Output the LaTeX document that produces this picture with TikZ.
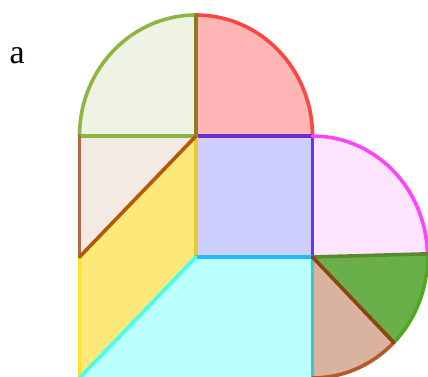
\documentclass[tikz,border=0pt]{standalone}
\usepackage{fontspec}
\setmainfont{Liberation Serif}
\usetikzlibrary{calc}
\definecolor{tlfill}{HTML}{EFF3E4}
\definecolor{tlarc}{HTML}{8DB543}
\definecolor{tlvert}{HTML}{8B7D1E}
\definecolor{rfill}{HTML}{FFB5B5}
\definecolor{rarc}{HTML}{FF4444}
\definecolor{bfill}{HTML}{CFCFFF}
\definecolor{btop}{HTML}{6A2ECC}
\definecolor{bright}{HTML}{6633FF}
\definecolor{befill}{HTML}{F3EAE4}
\definecolor{beleft}{HTML}{B06A4A}
\definecolor{bediag}{HTML}{B35A08}
\definecolor{yfill}{HTML}{FFE87A}
\definecolor{yleft}{HTML}{FFE030}
\definecolor{yright}{HTML}{E8C830}
\definecolor{cfill}{HTML}{BBFFFF}
\definecolor{cdiag}{HTML}{44FFEE}
\definecolor{ctop}{HTML}{22BBFF}
\definecolor{cright}{HTML}{33CCCC}
\definecolor{pfill}{HTML}{FFE4FF}
\definecolor{parc}{HTML}{FF44FF}
\definecolor{gfill}{HTML}{6AB04A}
\definecolor{garc}{HTML}{4FAA20}
\definecolor{gtop}{HTML}{5A8A30}
\definecolor{brfill}{HTML}{D9B3A0}
\definecolor{brarc}{HTML}{B5582A}
\definecolor{brdiag}{HTML}{8B4510}
\begin{document}
\begin{tikzpicture}[x=1pt,y=1pt,
  edge/.style={line width=3.6pt, line cap=round, line join=round}]
\useasboundingbox (0,0) rectangle (428,-376);
\clip (0,0) rectangle (428,-376);
\coordinate (O1) at (196,-136);
\coordinate (A) at (79.5,-136);
\coordinate (B) at (312.5,-136);
\coordinate (T) at (196,-15);
\coordinate (C) at (79.5,-257);
\coordinate (D) at (196,-257);
\coordinate (E) at (312.5,-257);
\coordinate (F) at (312.5,-378);
\coordinate (H) at (79.5,-378);
\coordinate (P) at ($(E)+(1.5:115 and 121)$);
\coordinate (Q) at ($(E)+(-45:115 and 121)$);
% fills
\fill[tlfill] (O1) -- (A) arc[start angle=180,end angle=90,x radius=116.5,y radius=121] -- cycle;
\fill[rfill] (O1) -- (T) arc[start angle=90,end angle=0,x radius=116.5,y radius=121] -- cycle;
\fill[bfill] (O1) -- (B) -- (E) -- (D) -- cycle;
\fill[befill] (A) -- (O1) -- (C) -- cycle;
\fill[yfill] (C) -- (O1) -- (D) -- (H) -- cycle;
\fill[cfill] (D) -- (E) -- (F) -- (H) -- cycle;
\fill[pfill] (E) -- (B) arc[start angle=90,end angle=1.5,x radius=115,y radius=121] -- cycle;
\fill[gfill] (E) -- (P) arc[start angle=1.5,end angle=-45,x radius=115,y radius=121] -- cycle;
\fill[brfill] (E) -- (Q) arc[start angle=-45,end angle=-90,x radius=115,y radius=121] -- cycle;
% edges
\draw[edge,tlarc] (A) arc[start angle=180,end angle=90,x radius=116.5,y radius=121];
\draw[edge,rarc] (T) arc[start angle=90,end angle=0,x radius=116.5,y radius=121];
\draw[edge,tlvert] (T) -- (O1);
\draw[edge,tlarc] (A) -- (O1);
\draw[edge,btop] (O1) -- (B);
\draw[edge,bright] (B) -- (E);
\draw[edge,beleft] (A) -- (C);
\draw[edge,yleft] (C) -- (H);
\draw[edge,yright] (O1) -- (D);
\draw[edge,cright] (E) -- (F);
\draw[edge,ctop] (D) -- (E);
\draw[edge,cdiag] (D) -- (H);
\draw[edge,bediag] (C) -- (O1);
\draw[edge,parc] (B) arc[start angle=90,end angle=1.5,x radius=115,y radius=121];
\draw[edge,garc] (P) arc[start angle=1.5,end angle=-45,x radius=115,y radius=121];
\draw[edge,gtop] (E) -- (P);
\draw[edge,brarc] (Q) arc[start angle=-45,end angle=-90,x radius=115,y radius=121];
\draw[edge,brdiag] (E) -- (Q);
\node[anchor=base west, inner sep=0pt, font=\fontsize{34}{40}\selectfont] (lbl) at (9.5,-63) {a};
\end{tikzpicture}
\end{document}
